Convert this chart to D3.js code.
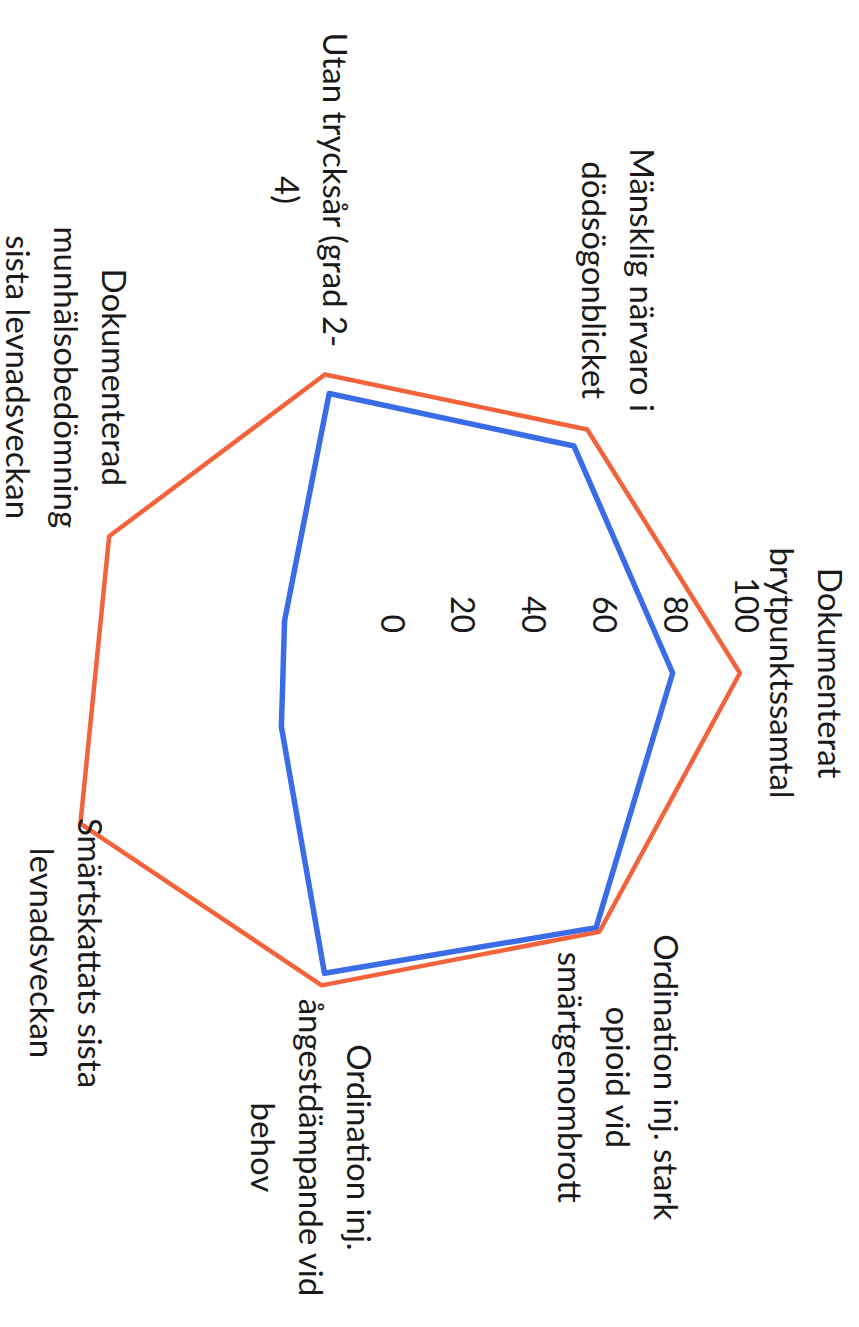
<!DOCTYPE html>
<html>
<head>
<meta charset="utf-8">
<script src="https://cdn.jsdelivr.net/npm/d3@7"></script>
<style>
  html, body { margin: 0; padding: 0; background: #fff; }
  text { font-family: Lato, "Open Sans", sans-serif; fill: #1a1a1a; }
</style>
</head>
<body>
<svg id="chart" width="859" height="1327"></svg>
<script>
// categories, one line per row of the label
const categories = [
  ["Dokumenterat", "brytpunktssamtal"],
  ["Ordination inj. stark", "opioid vid", "smärtgenombrott"],
  ["Ordination inj.", "ångestdämpande vid", "behov"],
  ["Smärtskattats sista", "levnadsveckan"],
  ["Dokumenterad", "munhälsobedömning", "sista levnadsveckan"],
  ["Utan trycksår (grad 2-", "4)"],
  ["Mänsklig närvaro i", "dödsögonblicket"]
];

// values (%)
const orangeValues = [98, 93.5, 90.5, 98, 89, 86.5, 88];
const blueValues = [79, 92, 87, 35, 34, 81, 82];

const tickValues = [0, 20, 40, 60, 80, 100];

// settings
const width = 859;
const height = 1327;
const cx = 393;
const cy = 673;
const radius = 354;
const fontSize = 33;
const lineHeight = 48;

const svg = d3.select("#chart");
svg.append("rect").attr("width", width).attr("height", height).attr("fill", "#fff");

// the whole chart is drawn upright and then turned a quarter turn clockwise
const g = svg.append("g")
  .attr("transform", `translate(${cx},${cy}) rotate(90)`);

const r = d3.scaleLinear().domain([0, 100]).range([0, radius]);
const angle = d3.scaleLinear().domain([0, categories.length]).range([0, 2 * Math.PI]);

// value axis labels (left of the vertical axis)
g.append("g")
  .selectAll("text")
  .data(tickValues)
  .join("text")
  .attr("x", -40)
  .attr("y", (d) => -r(d))
  .attr("text-anchor", "end")
  .attr("dominant-baseline", "central")
  .attr("font-size", 32)
  .text((d) => d);

// series lines
const line = d3.lineRadial()
  .angle((d, i) => angle(i))
  .radius((d) => r(d))
  .curve(d3.curveLinearClosed);

g.append("path")
  .attr("d", line(orangeValues))
  .attr("fill", "none")
  .attr("stroke", "#f2623b")
  .attr("stroke-width", 4.5)
  .attr("stroke-linejoin", "round");

g.append("path")
  .attr("d", line(blueValues))
  .attr("fill", "none")
  .attr("stroke", "#3a6ce8")
  .attr("stroke-width", 5.5)
  .attr("stroke-linejoin", "round");

// category labels
const labels = g.append("g")
  .selectAll("g")
  .data(categories)
  .join("g");

labels.each(function (lines, i) {
  const lg = d3.select(this);
  const t = lg.append("text")
    .attr("text-anchor", "middle")
    .attr("font-size", fontSize);
  t.selectAll("tspan")
    .data(lines)
    .join("tspan")
    .attr("x", 0)
    .attr("y", (d, j) => j * lineHeight)
    .text((d) => d);

  const b = t.node().getBBox();
  const a = angle(i);
  const dx = Math.sin(a);
  const dy = -Math.cos(a);
  let tx, ty;
  if (Math.abs(dx) < 0.01) {
    // top label sits above the axis end
    tx = -(b.x + b.width / 2);
    ty = -(radius + 16) - (b.y + b.height);
  } else {
    const edge = dx * (radius - 20);
    tx = dx > 0 ? edge - b.x : edge - (b.x + b.width);
    ty = dy * (radius + 8) - (b.y + b.height / 2);
  }
  lg.attr("transform", `translate(${tx},${ty})`);
});
</script>
</body>
</html>
